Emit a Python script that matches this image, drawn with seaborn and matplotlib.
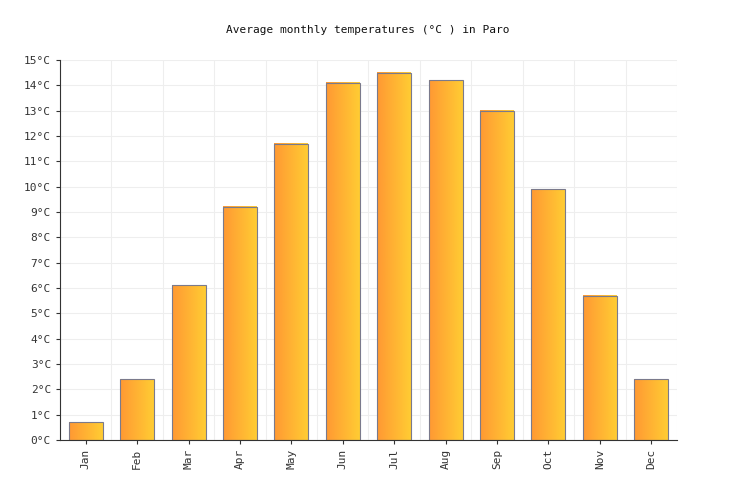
import numpy as np
import pandas as pd
import seaborn as sns
import matplotlib.pyplot as plt
from matplotlib.colors import LinearSegmentedColormap

months = ["Jan", "Feb", "Mar", "Apr", "May", "Jun", "Jul", "Aug", "Sep", "Oct", "Nov", "Dec"]
temps = [0.7, 2.4, 6.1, 9.2, 11.7, 14.1, 14.5, 14.2, 13.0, 9.9, 5.7, 2.4]
y_ticks = list(range(0, 16))

plt.rcParams["font.family"] = "DejaVu Sans Mono"
fig = plt.figure(figsize=(7.36, 5), dpi=100)
ax = fig.add_axes([60 / 736, 60 / 500, 617 / 736, 380 / 500])

df = pd.DataFrame({"month": months, "temp": temps})
sns.barplot(data=df, x="month", y="temp", ax=ax, width=0.66,
            color="#ffb233", saturation=1, edgecolor="#7a7a8c", linewidth=0.8)

# horizontal orange -> yellow gradient inside each bar
cmap = LinearSegmentedColormap.from_list("og", ["#ff9933", "#ffcc33"])
grad = np.linspace(0, 1, 64).reshape(1, -1)
for patch in list(ax.patches):
    x0, y0 = patch.get_x(), patch.get_y()
    w, h = patch.get_width(), patch.get_height()
    ax.imshow(grad, cmap=cmap, aspect="auto", extent=[x0, x0 + w, y0, y0 + h], zorder=3)
    patch.set_facecolor("none")
    patch.set_zorder(4)

ax.set_xlim(-0.5, len(months) - 0.5)
ax.set_ylim(0, 15)
ax.set_yticks(y_ticks)
ax.set_yticklabels([f"{t}°C" for t in y_ticks], fontsize=8, color="#333333")
ax.set_xticks(range(len(months)))
ax.set_xticklabels(months, rotation=90, fontsize=8, color="#333333")
ax.set_xlabel("")
ax.set_ylabel("")
ax.set_xticks(np.arange(-0.5, len(months), 1), minor=True)
ax.grid(True, which="major", axis="y", color="#eeeeee", linewidth=0.8, zorder=0)
ax.grid(True, which="minor", axis="x", color="#eeeeee", linewidth=0.8, zorder=0)
ax.tick_params(axis="x", which="minor", length=0)
ax.tick_params(axis="both", which="major", length=3, color="#333333")
for s in ["top", "right"]:
    ax.spines[s].set_visible(False)
ax.spines["left"].set_color("#333333")
ax.spines["bottom"].set_color("#333333")
ax.spines["left"].set_zorder(5)
ax.spines["bottom"].set_zorder(5)
ax.set_axisbelow(True)
fig.text(0.5, 1 - 30 / 500, "Average monthly temperatures (°C ) in Paro",
         ha="center", va="center", fontsize=8, color="#111111")

fig.savefig("out.png", dpi=100)
